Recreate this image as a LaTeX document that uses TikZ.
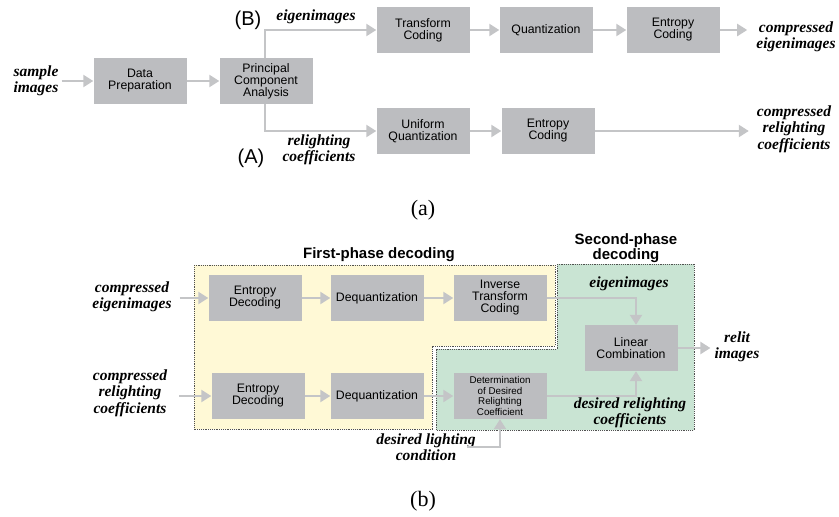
\documentclass[tikz,border=0pt]{standalone}
\usepackage{fontspec}
\setmainfont{Liberation Serif}
\newfontfamily\sansf{Liberation Sans}
\usetikzlibrary{arrows.meta}
\definecolor{boxgray}{RGB}{188,189,192}
\definecolor{arrgray}{RGB}{196,197,199}
\definecolor{yellowbg}{RGB}{255,249,214}
\definecolor{greenbg}{RGB}{201,228,211}
\definecolor{dotgray}{RGB}{80,80,80}
\tikzset{
  x=1pt,y=-1pt,
  stagebox/.style={fill=boxgray,minimum width=93pt,minimum height=46pt,inner sep=0pt,align=center,
    font=\sansf\fontsize{12.3}{12}\selectfont},
  smallbox/.style={stagebox,font=\sansf\fontsize{9.8}{10.8}\selectfont},
  lab/.style={inner sep=0pt,align=center,font=\fontsize{15.5}{16.5}\selectfont\bfseries\itshape},
  tagtxt/.style={inner sep=0pt,font=\sansf\fontsize{20}{20}\selectfont},
  ttl/.style={inner sep=0pt,align=center,font=\sansf\bfseries\fontsize{15}{15.5}\selectfont},
  captxt/.style={inner sep=0pt,font=\fontsize{22}{22}\selectfont},
  flow/.style={draw=arrgray,line width=2.3pt,-{Triangle[length=10pt,width=12pt]}},
  region/.style={draw=dotgray,line width=0.9pt,dash pattern=on 1.2pt off 1pt},
}
\begin{document}
\begin{tikzpicture}
\useasboundingbox (0,0) rectangle (839,517);
% ---------- (a) ----------
\node[lab] (si) at (36,81) {sample\\images};
\node[stagebox] (dp) at (140,81) {Data\\Preparation};
\node[stagebox] (pca) at (266,81) {Principal\\Component\\Analysis};
\node[stagebox] (tc) at (423,30) {Transform\\Coding};
\node[stagebox] (qz) at (546,30) {Quantization};
\node[stagebox] (ec) at (673,30) {Entropy\\Coding};
\node[lab] (ce) at (796,37) {compressed\\eigenimages};
\node[stagebox] (uq) at (423,131) {Uniform\\Quantization};
\node[stagebox] (ec2) at (548,131) {Entropy\\Coding};
\node[lab] (crc) at (794,129) {compressed\\relighting\\coefficients};
\node[tagtxt] (tb) at (248,20) {(B)};
\node[lab] (eig) at (316,17) {eigenimages};
\node[tagtxt] (ta) at (251,158) {(A)};
\node[lab] (rc) at (319,150) {relighting\\coefficients};
\node[captxt] (capa) at (423,210) {(a)};

\draw[flow,shorten <=3pt] (si.east) -- (dp.west);
\draw[flow] (dp.east) -- (pca.west);
\draw[flow] ([xshift=-1pt]pca.north) |- (tc.west);
\draw[flow] (tc.east) -- (qz.west);
\draw[flow] (qz.east) -- (ec.west);
\draw[flow,shorten >=9pt] (ec.east) -- (ce.west |- ec.east);
\draw[flow] ([xshift=-1pt]pca.south) |- (uq.west);
\draw[flow] (uq.east) -- (ec2.west);
\draw[flow,shorten >=8pt] (ec2.east) -- (crc.west |- ec2.east);

% ---------- (b) ----------
\path[region,fill=yellowbg] (194,265) -- (555,265) -- (555,346) -- (432,346) -- (432,429) -- (194,429) -- cycle;
\path[region,fill=greenbg] (557,264) -- (694,264) -- (694,430) -- (436,430) -- (436,349) -- (557,349) -- cycle;
\node[ttl] (t1) at (379,255) {First-phase decoding};
\node[ttl] (t2) at (626,248) {Second-phase\\decoding};

\node[lab] (cei) at (132,297) {compressed\\eigenimages};
\node[lab] (crc2) at (130,393) {compressed\\relighting\\coefficients};
\node[stagebox] (ed1) at (255,298) {Entropy\\Decoding};
\node[stagebox] (dq1) at (377,298) {Dequantization};
\node[stagebox] (itc) at (500,298) {Inverse\\Transform\\Coding};
\node[stagebox] (lc) at (631,348) {Linear\\Combination};
\node[stagebox] (ed2) at (258,396) {Entropy\\Decoding};
\node[stagebox] (dq2) at (377,396) {Dequantization};
\node[smallbox] (det) at (500,396) {Determination\\of Desired\\Relighting\\Coefficient};
\node[lab] (eig2) at (629,284) {eigenimages};
\node[lab] (drc) at (630,413) {desired relighting\\coefficients};
\node[lab] (dlc) at (426,447) {desired lighting\\condition};
\node[lab] (ri) at (737,347) {relit\\images};
\node[captxt] (capb) at (423,501) {(b)};

\draw[flow,shorten <=8pt] (cei.east |- ed1.west) -- (ed1.west);
\draw[flow,shorten <=12pt] (crc2.east |- ed2.west) -- (ed2.west);
\draw[flow] (ed1.east) -- (dq1.west);
\draw[flow] (dq1.east) -- (itc.west);
\draw[flow] (itc.east) -| ([xshift=5pt]lc.north);
\draw[flow] (ed2.east) -- (dq2.west);
\draw[flow] (dq2.east) -- (det.west);
\draw[flow] (det.east) -| ([xshift=5pt]lc.south);
\draw[flow,shorten >=4pt] (lc.east) -- (ri.west |- lc.east);
\draw[flow] ([xshift=-9pt]dlc.east) -| (det.south);
\end{tikzpicture}
\end{document}
